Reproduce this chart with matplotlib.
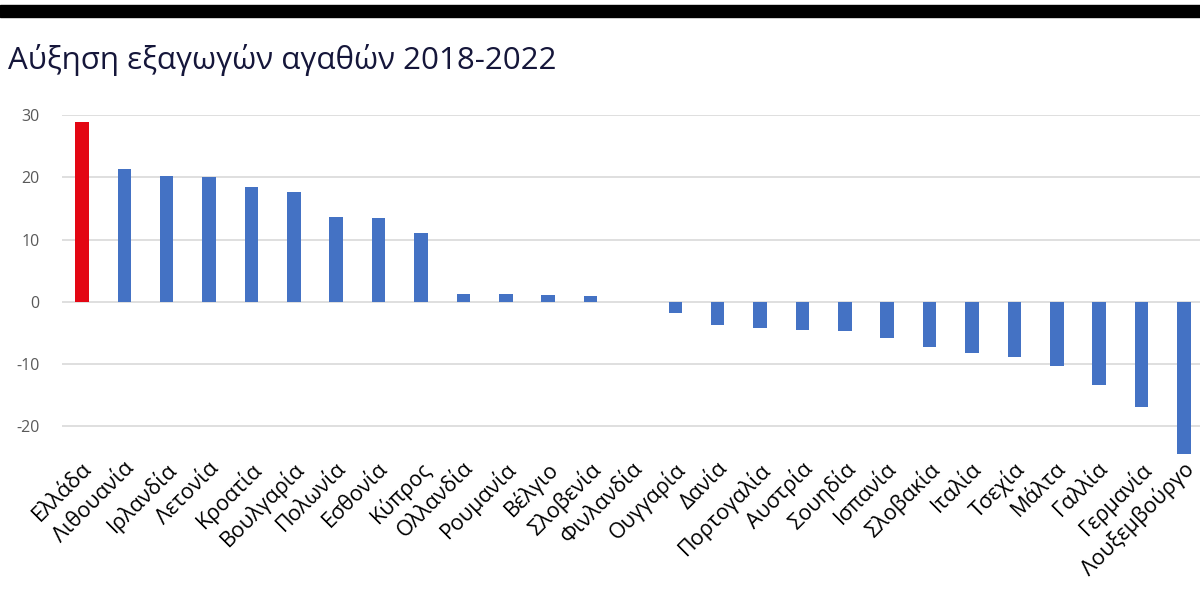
import numpy as np
import matplotlib
matplotlib.use('Agg')
import matplotlib.pyplot as plt
import matplotlib.transforms as mtransforms

plt.rcParams['axes.unicode_minus'] = False

# data
countries = ['Ελλάδα', 'Λιθουανία', 'Ιρλανδία', 'Λετονία', 'Κροατία', 'Βουλγαρία',
             'Πολωνία', 'Εσθονία', 'Κύπρος', 'Ολλανδία', 'Ρουμανία', 'Βέλγιο',
             'Σλοβενία', 'Φινλανδία', 'Ουγγαρία', 'Δανία', 'Πορτογαλία', 'Αυστρία',
             'Σουηδία', 'Ισπανία', 'Σλοβακία', 'Ιταλία', 'Τσεχία', 'Μάλτα',
             'Γαλλία', 'Γερμανία', 'Λουξεμβούργο']
growth = [29.0, 21.3, 20.3, 20.0, 18.5, 17.6, 13.7, 13.5, 11.1, 1.25, 1.2, 1.0,
          0.85, 0.0, -1.9, -3.8, -4.3, -4.5, -4.7, -5.9, -7.3, -8.3, -8.9, -10.3,
          -13.5, -16.9, -24.5]
y_ticks = [-20, -10, 0, 10, 20, 30]

blue = '#4472c4'
red = '#e30613'
colors = [red if c == 'Ελλάδα' else blue for c in countries]
fam = ['Open Sans', 'DejaVu Sans']

fig = plt.figure(figsize=(12, 5.93), dpi=100)
# black band at the top
fig.patches.append(plt.Rectangle((0, 1 - 17/593), 1, 12/593, transform=fig.transFigure,
                                 color='black', zorder=5))
fig.text(0.007, 1 - 60/593, 'Αύξηση εξαγωγών αγαθών 2018-2022', fontsize=22.5,
         color='#15163a', family=fam, va='center')

ax = fig.add_axes([62/1200, 1 - 455/593, 1138/1200, (455-116)/593 * 55/54.8])
x = np.arange(len(countries))
ax.bar(x, growth, width=0.32, color=colors, zorder=3)
ax.set_xlim(-0.47, len(countries) - 1 + 0.38)
ax.set_ylim(-24.7, 30.1)
ax.set_yticks(y_ticks)
ax.grid(axis='y', color='#d9d9d9', lw=1.2, zorder=0)
for s in ax.spines.values():
    s.set_visible(False)
ax.tick_params(axis='both', length=0)
ax.tick_params(axis='y', labelsize=11.5, labelcolor='#595959', pad=16)
for lab in ax.get_yticklabels():
    lab.set_family(fam)

ax.set_xticks(x)
ax.set_xticklabels(countries, rotation=45, ha='right', va='top',
                   rotation_mode='anchor', fontsize=15.5,
                   family=fam, color='black')
offset = mtransforms.ScaledTranslation(-1/100, 2/100, fig.dpi_scale_trans)
for lab in ax.get_xticklabels():
    lab.set_transform(lab.get_transform() + offset)

fig.savefig('out.png', dpi=100)
